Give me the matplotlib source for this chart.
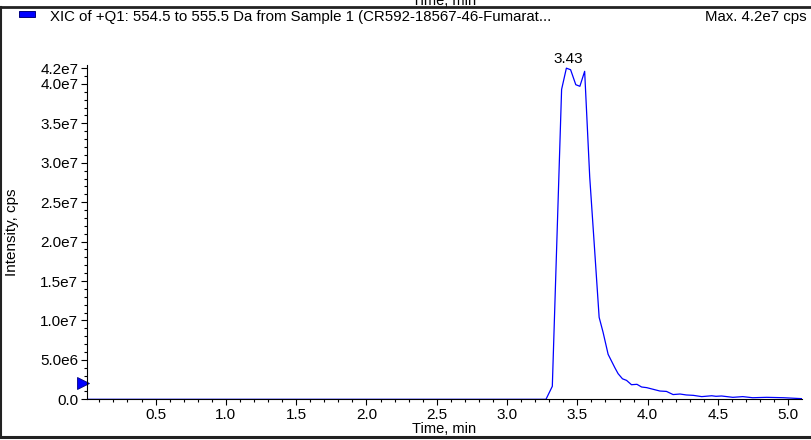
import matplotlib
matplotlib.use("Agg")
import matplotlib.pyplot as plt
from matplotlib.ticker import MultipleLocator, FixedLocator
from matplotlib.lines import Line2D
from matplotlib.patches import Rectangle

plt.rcParams.update({
    "font.family": ["Liberation Sans", "DejaVu Sans"],
    "font.size": 11,
})

# XIC trace (time in min, intensity in cps)
time_min = [0.01, 3.277, 3.322, 3.355, 3.388, 3.422, 3.452, 3.489, 3.518, 3.552,
            3.588, 3.622, 3.655, 3.683, 3.719, 3.767, 3.790, 3.821, 3.850, 3.885,
            3.924, 3.957, 3.993, 4.039, 4.087, 4.134, 4.181, 4.230, 4.275, 4.325,
            4.385, 4.456, 4.486, 4.526, 4.606, 4.677, 4.747, 4.847, 4.967, 5.098]
intensity_e6 = [0, 0, 1.65, 20.5, 39.3, 42.0, 41.8, 39.9, 39.7, 41.6,
                28.2, 19.2, 10.4, 8.5, 5.7, 4.0, 3.25, 2.6, 2.4, 1.85,
                1.9, 1.56, 1.48, 1.27, 1.05, 1.0, 0.6, 0.67, 0.55, 0.5,
                0.34, 0.45, 0.38, 0.42, 0.25, 0.34, 0.2, 0.25, 0.2, 0.08]
intensity = [v * 1e6 for v in intensity_e6]

peak_time = 3.422
peak_label = "3.43"
marker_level = 2.06e6

x_ticks = [0.5, 1.0, 1.5, 2.0, 2.5, 3.0, 3.5, 4.0, 4.5, 5.0]
x_ticklabels = ["0.5", "1.0", "1.5", "2.0", "2.5", "3.0", "3.5", "4.0", "4.5", "5.0"]
y_ticks = [0, 5e6, 1e7, 1.5e7, 2e7, 2.5e7, 3e7, 3.5e7, 4e7, 4.2e7]
y_ticklabels = ["0.0", "5.0e6", "1.0e7", "1.5e7", "2.0e7", "2.5e7", "3.0e7", "3.5e7", "4.0e7", "4.2e7"]

title = "XIC of +Q1: 554.5 to 555.5 Da from Sample 1 (CR592-18567-46-Fumarat..."
max_text = "Max. 4.2e7 cps"

BLUE = "#0000ff"

fig = plt.figure(figsize=(8.11, 4.4), dpi=100)
ax = fig.add_axes([86.7/811, 40.7/440, (802-86.7)/811, (399.3-65)/440])

ax.plot(time_min, intensity, color=BLUE, linewidth=0.9)
ax.set_xlim(0.01, 5.098)
ax.set_ylim(0, 4.24e7)

ax.xaxis.set_major_locator(FixedLocator(x_ticks))
ax.set_xticklabels(x_ticklabels)
ax.xaxis.set_minor_locator(MultipleLocator(0.1))
ax.yaxis.set_major_locator(FixedLocator(y_ticks))
ax.set_yticklabels(y_ticklabels)
ax.yaxis.set_minor_locator(MultipleLocator(1e6))
ax.tick_params(which="major", direction="out", length=4, width=0.8, pad=2, labelsize=11)
ax.tick_params(which="minor", direction="out", length=2.2, width=0.8)

for s in ["top", "right"]:
    ax.spines[s].set_visible(False)
for s in ["left", "bottom"]:
    ax.spines[s].set_linewidth(0.8)

ax.set_xlabel("Time, min", fontsize=10.5, labelpad=0)
fig.text(12/811, 1 - 232/440, "Intensity, cps", rotation=90, ha="center", va="center", fontsize=11)

ax.annotate(peak_label, xy=(peak_time, max(intensity)), xytext=(1, 1.5),
            textcoords="offset points", ha="center", va="bottom", fontsize=11)

# level marker on the y axis
ax.plot([-0.005], [marker_level], marker=">", markersize=8, color=BLUE,
        markeredgecolor="#000080", markeredgewidth=0.6, clip_on=False,
        transform=ax.get_yaxis_transform())

# header strip and frame
fig.add_artist(Line2D([0, 1], [1 - 7.5/440, 1 - 7.5/440], color="#222222", linewidth=2.0))
fig.add_artist(Line2D([1.2/811, 1.2/811], [3/440, 1 - 7.5/440], color="#222222", linewidth=1.5))
fig.add_artist(Line2D([0, 1], [3/440, 3/440], color="#222222", linewidth=2.2))
fig.text(444.5/811, 1 - 5/440, "Time, min", ha="center", va="baseline", fontsize=10.5)
fig.add_artist(Rectangle((18.5/811, 1 - 16.7/440), 16.5/811, 6/440, facecolor=BLUE,
                         edgecolor="#000080", linewidth=0.7))
fig.text(50/811, 1 - 16.5/440, title, ha="left", va="center", fontsize=10.8)
fig.text(807/811, 1 - 16.5/440, max_text, ha="right", va="center", fontsize=10.8)

fig.savefig("out.png", dpi=100)
